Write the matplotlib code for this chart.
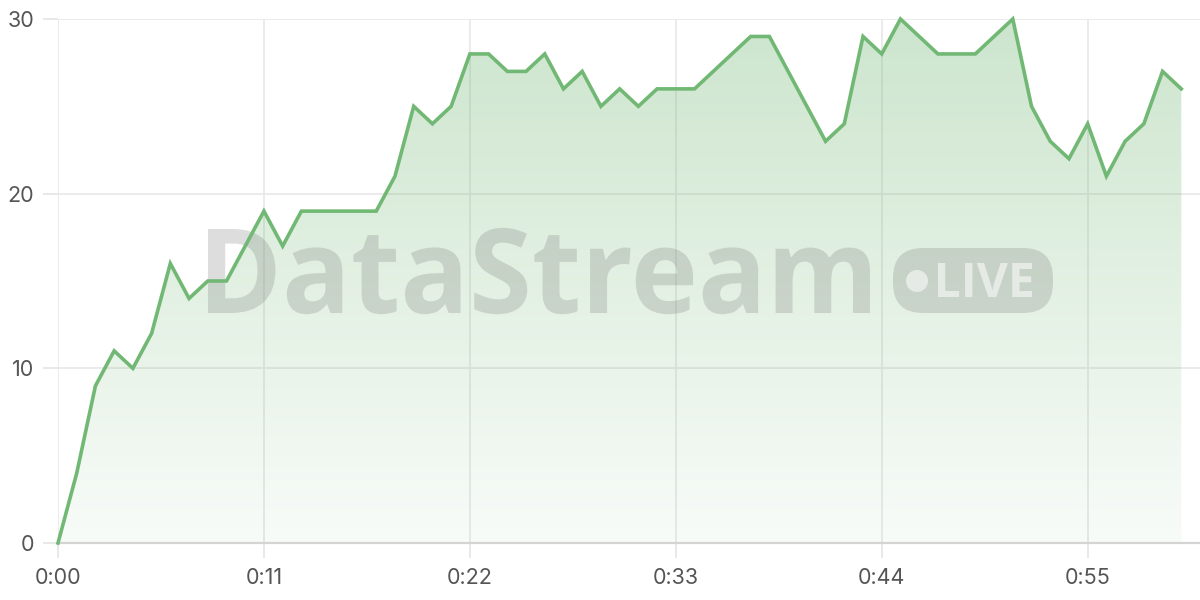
import numpy as np
import matplotlib
matplotlib.use("Agg")
import matplotlib.pyplot as plt
import matplotlib.transforms as mtransforms
from matplotlib.colors import LinearSegmentedColormap
from matplotlib.patches import Polygon, FancyBboxPatch, Circle, PathPatch
from matplotlib.textpath import TextPath
from matplotlib.font_manager import FontProperties

# seconds since start and the value at each second
seconds = list(range(61))
values = [0, 4, 9, 11, 10, 12, 16, 14, 15, 15,
          17, 19, 17, 19, 19, 19, 19, 19, 21, 25,
          24, 25, 28, 28, 27, 27, 28, 26, 27, 25,
          26, 25, 26, 26, 26, 27, 28, 29, 29, 27,
          25, 23, 24, 29, 28, 30, 29, 28, 28, 28,
          29, 30, 25, 23, 22, 24, 21, 23, 24, 27,
          26]

x_ticks = [0, 11, 22, 33, 44, 55]
x_labels = ["0:00", "0:11", "0:22", "0:33", "0:44", "0:55"]
y_ticks = [0, 10, 20, 30]

GREEN = "#72b875"

plt.rcParams['font.family'] = ['Inter', 'DejaVu Sans']

fig = plt.figure(figsize=(12, 6), dpi=100)
ax = fig.add_axes([58 / 1200, 57 / 600, 1142 / 1200, 524 / 600])

# gradient under the line, clipped to the area shape
cmap = LinearSegmentedColormap.from_list(
    "fade", [(0.45, 0.72, 0.46, 0.05), (0.45, 0.72, 0.46, 0.36)])
grad = np.linspace(1, 0, 256).reshape(-1, 1)
im = ax.imshow(grad, extent=[0, seconds[-1], 0, 30], aspect='auto',
               cmap=cmap, origin='upper', zorder=1)
verts = [(seconds[0], 0)] + list(zip(seconds, values)) + [(seconds[-1], 0)]
area = Polygon(verts, closed=True, facecolor='none', edgecolor='none')
ax.add_patch(area)
im.set_clip_path(area)

ax.plot(seconds, values, color=GREEN, lw=2.6, zorder=4,
        solid_joinstyle='miter', clip_on=False)

ax.set_xlim(0, 61)
ax.set_ylim(0, 30)
ax.set_xticks(x_ticks)
ax.set_xticklabels(x_labels)
ax.set_yticks(y_ticks)

ax.grid(True, color='#e8e8e8', lw=1.2, zorder=0)
ax.set_axisbelow(True)
for side in ['top', 'right', 'left']:
    ax.spines[side].set_visible(False)
ax.spines['bottom'].set_color('#d4d4d4')
ax.spines['bottom'].set_linewidth(1.6)
ax.spines['bottom'].set_zorder(3)
ax.tick_params(axis='both', length=11, width=1.2, color='#e4e4e4',
               labelcolor='#555555', labelsize=15.5)
ax.tick_params(axis='x', pad=7)
ax.tick_params(axis='y', pad=6)

# watermark, positioned in pixel coordinates from the top-left corner
px = mtransforms.Affine2D().scale(1 / 1200, -1 / 600).translate(0, 1) + fig.transFigure
wm_color = '#7a7a7a'
bold = FontProperties(family='Open Sans', weight='bold')


def fitted_text(s, left, right, cap_top, baseline, **kw):
    """Draw text as a path stretched into a pixel box (cap height to baseline)."""
    tp = TextPath((0, 0), s, size=1, prop=bold)
    ext = tp.get_extents()
    cap = TextPath((0, 0), "D", size=1, prop=bold).get_extents().y1
    sx = (right - left) / ext.width
    sy = (baseline - cap_top) / cap
    tr = mtransforms.Affine2D().translate(-ext.x0, 0).scale(sx, -sy).translate(left, baseline)
    ax.add_patch(PathPatch(tp, transform=tr + px, edgecolor='none',
                           clip_on=False, **kw))


fitted_text("DataStream", 208, 870, 229, 313, facecolor=wm_color, alpha=0.25, zorder=2)
pill = FancyBboxPatch((893, 248), 160, 65, boxstyle="round,pad=0,rounding_size=30",
                      transform=px, facecolor=wm_color, edgecolor='none',
                      alpha=0.25, zorder=2, clip_on=False)
ax.add_patch(pill)
ax.add_patch(Circle((917, 281), 11, transform=px, facecolor='white',
                    alpha=0.55, zorder=2.5, clip_on=False))
fitted_text("LIVE", 938, 1032, 263, 297, facecolor='white', alpha=0.55, zorder=2.5)

fig.savefig("out.png", dpi=100)
